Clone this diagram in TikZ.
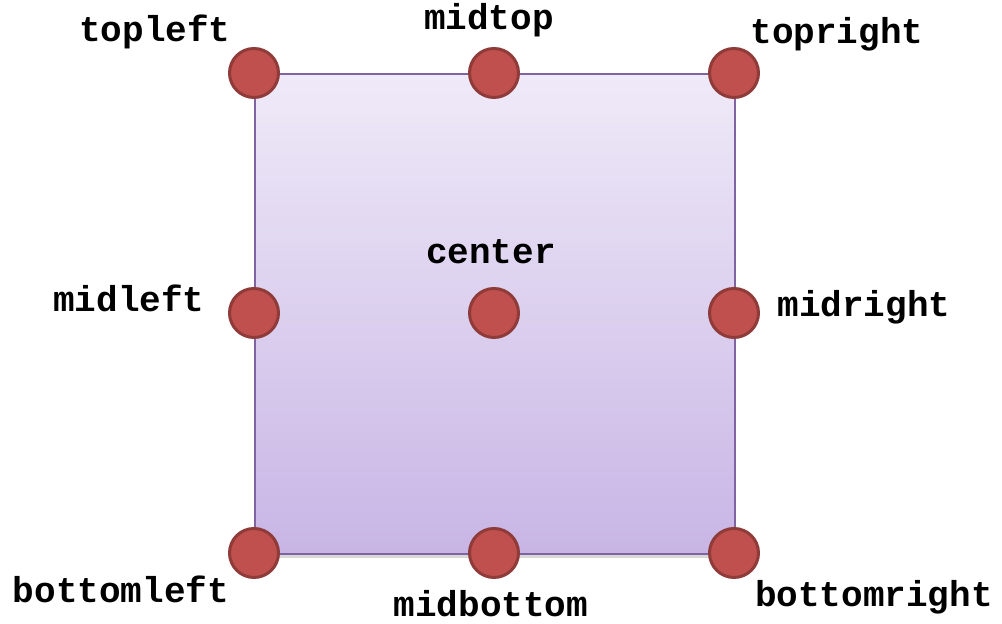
\documentclass[tikz,border=0pt]{standalone}
\usepackage{fontspec}
\setmonofont{Liberation Mono}
\usetikzlibrary{calc}
\usetikzlibrary{shadows}
\definecolor{dotred}{HTML}{C0504D}
\definecolor{dotedge}{HTML}{8E3B39}
\definecolor{boxedge}{HTML}{8064A2}
\definecolor{boxtop}{HTML}{EFEAF8}
\definecolor{boxbottom}{HTML}{C8B5E5}

\begin{document}
\begin{tikzpicture}[x=0.5pt, y=0.5pt, node distance=120pt,
    dot/.style={draw=dotedge, circle, fill=dotred, line width=1.5pt, minimum size=24.5pt, inner sep=0pt},
    lbl/.style={anchor=base, inner sep=0pt, font=\ttfamily\bfseries\fontsize{18}{20}\selectfont}]

    \useasboundingbox (0,0) rectangle (1002,624);

    \node (sq) [draw=boxedge, line width=1pt, rectangle, minimum width=240pt, minimum height=240pt, top color=boxtop, bottom color=boxbottom, drop shadow={shadow xshift=0.5pt, shadow yshift=-2pt, opacity=0.3}] at (495,310) {};

    \node (tl) [dot] at (sq.north west) {};
    \node (mt) [dot, right of=tl] {};
    \node (tr) [dot, right of=mt] {};
    \node (ml) [dot, below of=tl] {};
    \node (c) [dot, right of=ml] {};
    \node (mr) [dot, right of=c] {};
    \node (bl) [dot, below of=ml] {};
    \node (mb) [dot, right of=bl] {};
    \node (br) [dot, right of=mb] {};

    \node (tl-l) [lbl] at ($(tl) + (-99,31)$) {topleft};
    \node (mt-l) [lbl] at ($(mt) + (-5,43)$) {midtop};
    \node (tr-l) [lbl] at ($(tr) + (103,29)$) {topright};
    \node (ml-l) [lbl] at ($(ml) + (-125,1)$) {midleft};
    \node (c-l) [lbl] at ($(c) + (-3,49)$) {center};
    \node (mr-l) [lbl] at ($(mr) + (130,-4)$) {midright};
    \node (bl-l) [lbl] at ($(bl) + (-133,-50)$) {bottomleft};
    \node (mb-l) [lbl] at ($(mb) + (-3,-64)$) {midbottom};
    \node (br-l) [lbl] at ($(br) + (140,-54)$) {bottomright};

\end{tikzpicture}
\end{document}
